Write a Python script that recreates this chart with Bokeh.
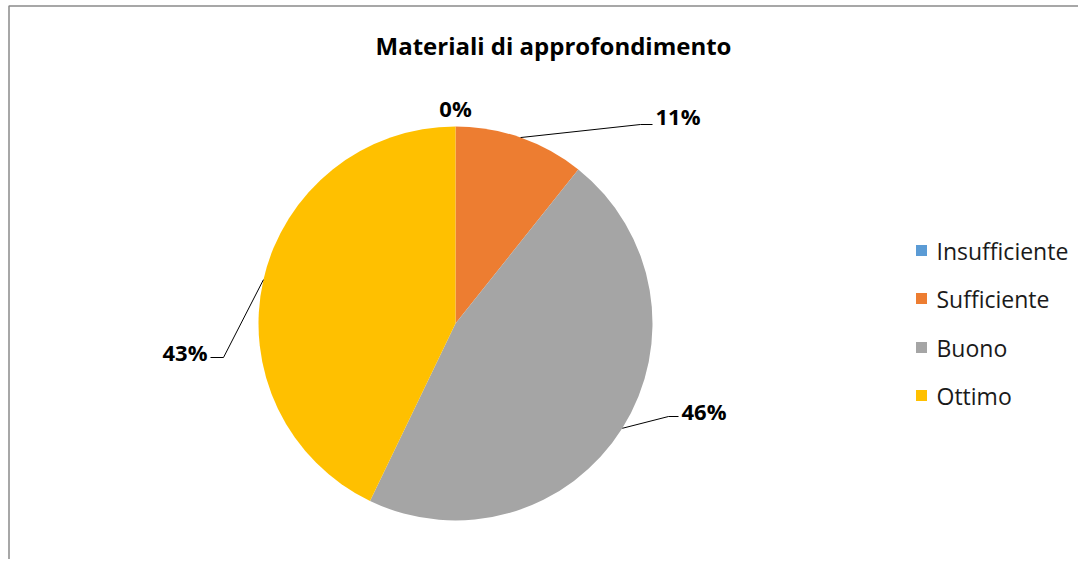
import numpy as np
from bokeh.plotting import figure
from bokeh.models import Range1d, ColumnDataSource
from bokeh.core.properties import value
from bokeh.embed import file_html
from bokeh.resources import INLINE

# ---- data ----
categories = ["Insufficiente", "Sufficiente", "Buono", "Ottimo"]
counts = [0, 3, 13, 12]
colors = ["#5B9BD5", "#ED7D31", "#A5A5A5", "#FFC000"]
title_text = "Materiali di approfondimento"

# ---- layout (screen pixels) ----
W, H = 1078, 559
def sx(x):
    return x
def sy(y):
    return H - y

CX, CY, R = 455, 323, 197
label_pos = [(455, 107, "center"), (655, 115, "left"), (681, 410, "left"), (207, 351, "right")]
leader_elbows = [None, [(640, 124), (652, 124)], [(668, 416), (678, 416)], [(223, 357), (210, 357)]]
legend_x, legend_text_x = 921, 936
legend_y = [250, 298, 347, 395]

FONT = value("Open Sans")

p = figure(width=W, height=H, output_backend="svg", toolbar_location=None,
           x_range=Range1d(0, W), y_range=Range1d(0, H),
           x_axis_type=None, y_axis_type=None, min_border=0,
           background_fill_color="white", border_fill_color="white")
p.min_border_left = p.min_border_right = p.min_border_top = p.min_border_bottom = 0
p.grid.visible = False
p.outline_line_color = None

# border (top and left visible in reference)
p.line([sx(8.5), sx(8.5), W], [-5, sy(5.5), sy(5.5)], line_color="#8a8a8a", line_width=1.5)

# pie
vals = np.array(counts, dtype=float)
fr = vals / vals.sum()
cum_after = np.cumsum(fr)
cum_before = cum_after - fr
start = np.pi / 2 - cum_before * 2 * np.pi
end = np.pi / 2 - cum_after * 2 * np.pi
mask = vals > 0
src = ColumnDataSource(dict(start=start[mask], end=end[mask],
                            color=[c for c, m in zip(colors, mask) if m]))
p.wedge(x=sx(CX), y=sy(CY), radius=R, start_angle="start", end_angle="end",
        direction="clock", fill_color="color", line_color=None, source=src)

# leader lines & labels
mid = (cum_before + fr / 2) * 2 * np.pi
for i, f in enumerate(fr):
    lx, ly, al = label_pos[i]
    p.text(x=[sx(lx)], y=[sy(ly)], text=[f"{round(100 * f)}%"], text_font=FONT,
           text_font_style="bold", text_font_size="22px", text_align=al,
           text_baseline="middle", text_color="#000000")
    if leader_elbows[i] is not None:
        ex = CX + R * np.sin(mid[i])
        ey = CY - R * np.cos(mid[i])
        pts = [(ex, ey)] + leader_elbows[i]
        p.line([sx(a) for a, b in pts], [sy(b) for a, b in pts], line_color="#000000", line_width=1)

# title
p.text(x=[sx(553)], y=[sy(45)], text=[title_text], text_font=FONT, text_font_style="bold",
       text_font_size="24px", text_align="center", text_baseline="middle", text_color="#000000")

# legend
p.rect(x=[sx(legend_x)] * len(categories), y=[sy(v) for v in legend_y], width=11, height=11,
       fill_color=colors, line_color=None)
p.text(x=[sx(legend_text_x)] * len(categories), y=[sy(v) for v in legend_y], text=categories,
       text_font=FONT, text_font_size="23px", text_align="left", text_baseline="middle",
       text_color="#1a1a1a")

open("out.html", "w").write(file_html(p, INLINE))
